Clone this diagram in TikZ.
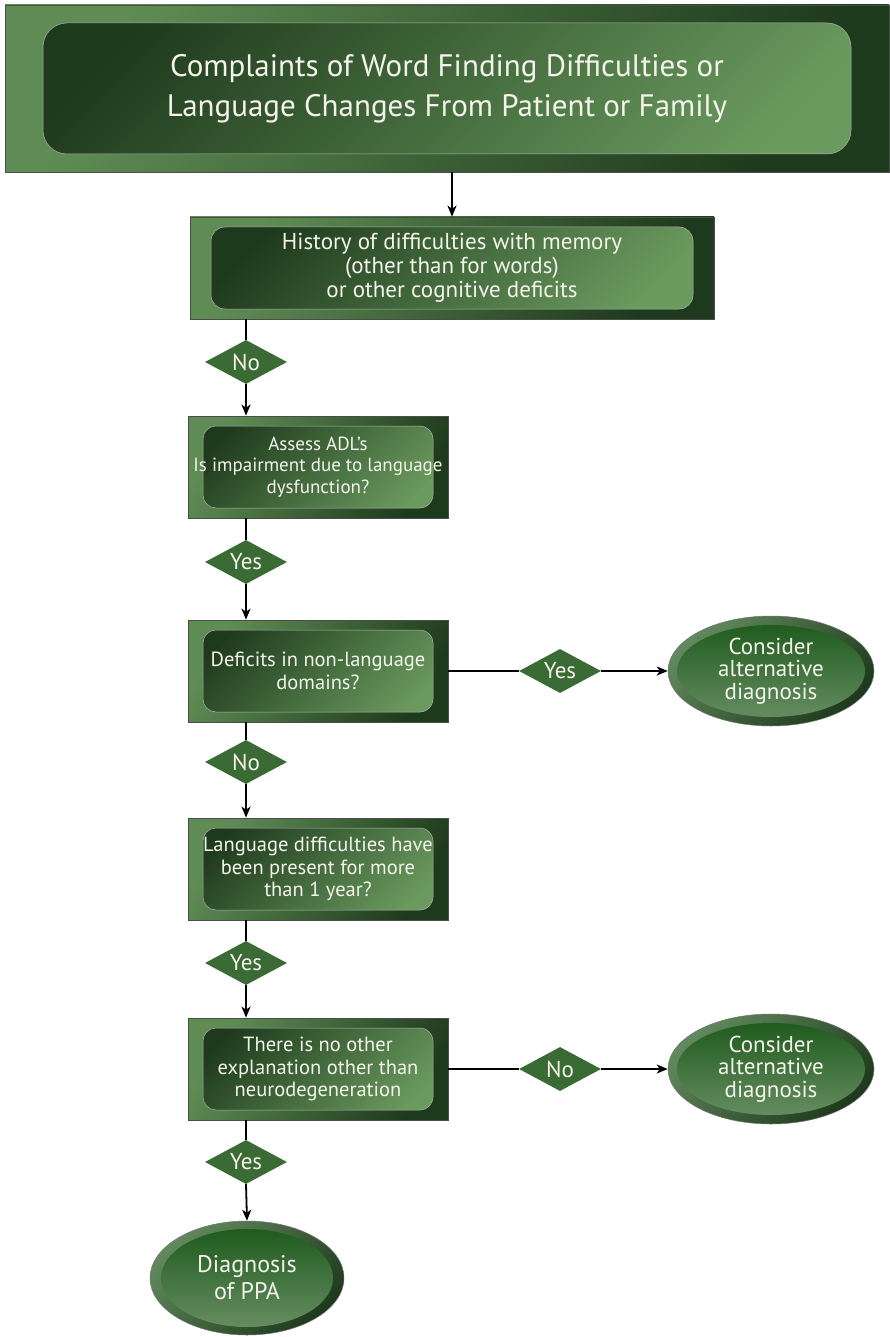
\documentclass[tikz,border=0pt]{standalone}
\usepackage{fontspec}
\setmainfont{PT Sans}
\usetikzlibrary{shapes.geometric,arrows.meta}
\definecolor{gdark}{HTML}{1E3A1C}
\definecolor{glight}{HTML}{6A9A5E}
\definecolor{gmid}{HTML}{3A6B34}
\definecolor{txt}{HTML}{F4F4EC}
\begin{document}
\begin{tikzpicture}[x=1pt,y=-1pt,
  box/.style n args={3}{rectangle, draw=black!70, line width=0.7pt,
    shading=axis, left color=glight!85!gdark, right color=gdark, shading angle=60,
    align=center, inner sep=0pt, text=txt,
    path picture={\shadedraw[rounded corners=#3pt, draw=black!30, line width=0.5pt,
        left color=gdark, right color=glight, shading angle=45]
      ([shift={(#1pt,-#2pt)}]path picture bounding box.north west) rectangle
      ([shift={(-#1pt,#2pt)}]path picture bounding box.south east);}},
  smallbox/.style={box={15}{10}{13}, minimum width=260pt, minimum height=102pt,
    font=\fontsize{20.5}{22.5}\selectfont},
  dia/.style={diamond, aspect=1.9, fill=gmid, minimum width=82pt, minimum height=44pt,
    inner sep=0pt, text=txt, font=\fontsize{23}{24}\selectfont},
  ell/.style 2 args={ellipse, draw=black!55, line width=0.5pt,
    shading=axis, left color=gmid!80!white, right color=gdark, shading angle=45,
    inner sep=0pt, align=center, text=txt,
    path picture={\shade[top color=gdark!85!green, bottom color=gmid!75!white]
      (path picture bounding box.center) ellipse [x radius=#1pt, y radius=#2pt];}},
  ln/.style={line width=1.8pt},
  arr/.style={line width=1.8pt, -{Stealth[length=11pt, width=9pt, inset=3pt]}}
]
\fill[white] (0,0) rectangle (889,1337);
\useasboundingbox (0,0) rectangle (889,1337);

\node[box={38}{18}{24}, minimum width=884pt, minimum height=167pt,
  font=\fontsize{31}{40}\selectfont] (top) at (447,88.5)
  {Complaints of Word Finding Difficulties or\\Language Changes From Patient or Family};
\node[box={21}{10}{14}, minimum width=524pt, minimum height=102pt,
  font=\fontsize{23}{24}\selectfont] (b2) at (452,268)
  {History of difficulties with memory\\(other than for words)\\or other cognitive deficits};
\node[smallbox, font=\fontsize{19}{21.5}\selectfont] (b3) at (318,467) {Assess ADL’s\\Is impairment due to language\\dysfunction?};
\node[smallbox] (b4) at (318,671) {Deficits in non-language\\domains?};
\node[smallbox] (b5) at (318,869) {Language difficulties have\\been present for more\\than 1 year?};
\node[smallbox] (b6) at (318,1069) {There is no other\\explanation other than\\neurodegeneration};

\node[dia] (d1) at (246,362) {No};
\node[dia] (d2) at (246,562) {Yes};
\node[dia] (d3) at (560,671) {Yes};
\node[dia] (d4) at (246,762) {No};
\node[dia] (d5) at (246,963) {Yes};
\node[dia] (d6) at (560,1069) {No};
\node[dia] (d7) at (246,1162) {Yes};

\node[ell={94}{46}, minimum width=206pt, minimum height=110pt,
  font=\fontsize{23}{22.5}\selectfont] (e1) at (771,671) {Consider\\alternative\\diagnosis};
\node[ell={94}{46}, minimum width=206pt, minimum height=110pt,
  font=\fontsize{23}{22.5}\selectfont] (e2) at (771,1069) {Consider\\alternative\\diagnosis};
\node[ell={86}{49}, minimum width=194pt, minimum height=114pt,
  font=\fontsize{24}{27}\selectfont] (e3) at (247,1278) {Diagnosis\\of PPA};

\draw[arr] (top.south -| b2.north) -- (b2.north);
\draw[ln] (b2.south -| d1) -- (d1.north);
\draw[arr] (d1.south) -- (b3.north -| d1);
\draw[ln] (b3.south -| d2) -- (d2.north);
\draw[arr] (d2.south) -- (b4.north -| d2);
\draw[ln] (b4.east) -- (d3.west);
\draw[arr] (d3.east) -- (e1.west);
\draw[ln] (b4.south -| d4) -- (d4.north);
\draw[arr] (d4.south) -- (b5.north -| d4);
\draw[ln] (b5.south -| d5) -- (d5.north);
\draw[arr] (d5.south) -- (b6.north -| d5);
\draw[ln] (b6.east) -- (d6.west);
\draw[arr] (d6.east) -- (e2.west);
\draw[ln] (b6.south -| d7) -- (d7.north);
\draw[arr] (d7.south) -- (e3.north);
\end{tikzpicture}
\end{document}
